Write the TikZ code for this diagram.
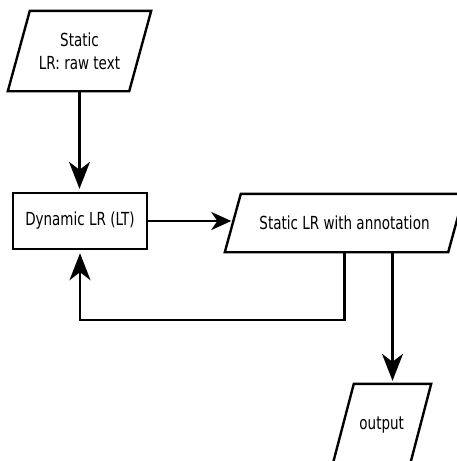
\documentclass[tikz,border=0pt]{standalone}
\usepackage{fontspec}
\newfontfamily\diagfont[FakeStretch=0.75]{DejaVu Sans}
\usetikzlibrary{arrows.meta,calc}

% outline of a parallelogram around a (borderless) node; #2 = half the slant
\newcommand\paraoutline[2]{%
  \draw ([xshift=#2]#1.north west) -- ([xshift=#2]#1.north east)
     -- ([xshift=-#2]#1.south east) -- ([xshift=-#2]#1.south west) -- cycle;}

\begin{document}
\begin{tikzpicture}[x=1pt,y=-1pt,line width=2.4pt,line join=miter,
  txt/.style={font=\diagfont\fontsize{18}{23}\selectfont,align=center,inner sep=0pt},
  rectbox/.style={txt,draw,minimum width=134pt,minimum height=56pt},
  parabox/.style={txt,draw=none},
  varr/.style={-{Stealth[length=27pt,width=21pt,inset=8pt]},shorten >=3pt},
  harr/.style={-{Stealth[length=20pt,width=18pt,inset=6pt]},shorten >=1.5pt}]
\useasboundingbox (0,0) rectangle (457,461);
\clip (0,0) rectangle (457,461);

% input, processing step, annotated result, output
\node[parabox,minimum width=119pt,minimum height=78pt] (raw) at (79.5,51) {Static\\LR: raw text};
\node[rectbox] (dyn) at (80,221) {Dynamic LR (LT)};
\node[parabox,minimum width=221pt,minimum height=56pt] (annot) at (344.5,223) {Static LR with annotation};
\node[parabox,minimum width=75pt,minimum height=80pt] (outp) at (381.7,425) {output};

\paraoutline{raw}{11pt}
\paraoutline{annot}{8pt}
\paraoutline{outp}{10.8pt}

% connectors
\draw[varr] (raw.south) -- (raw.south |- dyn.north);
\draw[harr] (dyn.east) -- (dyn.east -| annot.west);
\coordinate (outtop) at ([xshift=10.8pt]outp.north);
\draw[varr] (annot.south -| outtop) -- (outtop);
\coordinate (back) at (80,320);
\draw[varr] (annot.south) |- (back) -- (dyn.south);
\end{tikzpicture}
\end{document}
